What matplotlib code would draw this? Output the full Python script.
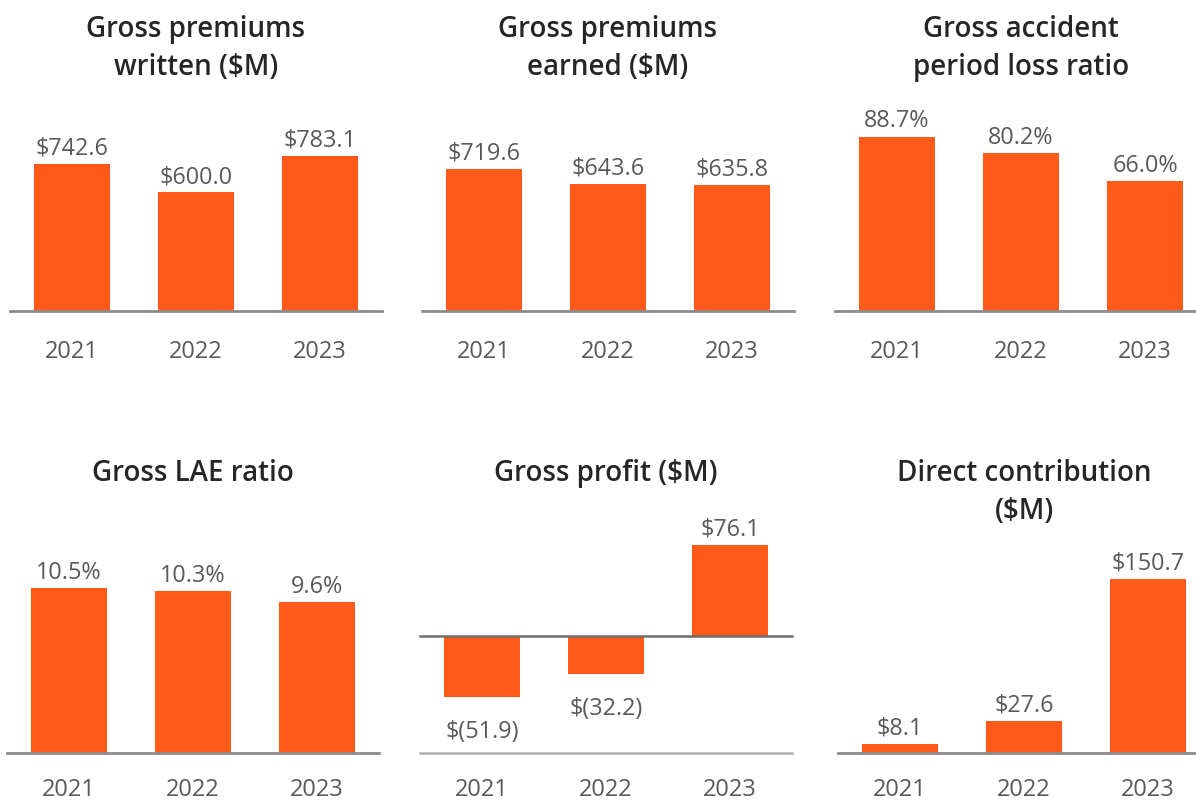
import matplotlib
matplotlib.use("Agg")
import matplotlib.pyplot as plt

plt.rcParams['font.family'] = ['Open Sans', 'DejaVu Sans']

years = ['2021', '2022', '2023']

gpw = [742.6, 600.0, 783.1]
gpe = [719.6, 643.6, 635.8]
loss_ratio = [88.7, 80.2, 66.0]
lae_ratio = [10.5, 10.3, 9.6]
gross_profit = [-51.9, -32.2, 76.1]
direct_contrib = [8.1, 27.6, 150.7]

titles = [
    ['Gross premiums', 'written ($M)'],
    ['Gross premiums', 'earned ($M)'],
    ['Gross accident', 'period loss ratio'],
    ['Gross LAE ratio'],
    ['Gross profit ($M)'],
    ['Direct contribution', '($M)'],
]

ORANGE = '#FF5A1A'
W, H = 1196, 804

fig = plt.figure(figsize=(W / 100, H / 100), dpi=100)


def money(v):
    if v < 0:
        return '$({:.1f})'.format(-v)
    return '${:.1f}'.format(v)


def pct(v):
    return '{:.1f}%'.format(v)


# (left px, top px, bottom px, ylim, values, formatter, title baseline px, year offset pt)
panels = [
    (10, 100, 312, (0, 1073), gpw, money, 37, -33),
    (422, 100, 312, (0, 1073), gpe, money, 37, -33),
    (835, 100, 312, (0, 107.9), loss_ratio, pct, 37, -33),
    (7, 520, 754, (0, 14.9), lae_ratio, pct, 481, -30.5),
    (420, 520, 754, (-98.8, 98), gross_profit, money, 481, -30.5),
    (838, 520, 754, (0, 202.6), direct_contrib, money, 481, -30.5),
]

for i, (x0, top, bot, ylim, vals, fmt, tb, yoff) in enumerate(panels):
    ax = fig.add_axes([x0 / W, 1 - bot / H, 372 / W, (bot - top) / H])
    ax.bar(range(3), vals, width=0.61, color=ORANGE, zorder=2)
    ax.set_xlim(-0.5, 2.5)
    ax.set_ylim(*ylim)
    ax.axis('off')
    if ylim[0] < 0:
        ax.axhline(0, color='#6e6e6e', lw=1.8, zorder=3, clip_on=False)
        ax.axhline(ylim[0], color='#b0b0b0', lw=1.8, zorder=3, clip_on=False)
    else:
        ax.axhline(0, color='#8c8c8c', lw=2, zorder=3, clip_on=False)
    for j, v in enumerate(vals):
        if v >= 0:
            ax.annotate(fmt(v), (j, v), xytext=(0, 7.5), textcoords='offset points',
                        ha='center', va='baseline', fontsize=16.8, color='#595959')
        else:
            ax.annotate(fmt(v), (j, v), xytext=(0, -16), textcoords='offset points',
                        ha='center', va='top', fontsize=16.8, color='#595959')
        ax.annotate(years[j], (j, ylim[0]), xytext=(0, yoff), textcoords='offset points',
                    ha='center', va='baseline', fontsize=17, color='#595959',
                    annotation_clip=False)
    cx = (x0 + 186) / W
    for k, line in enumerate(titles[i]):
        fig.text(cx, 1 - (tb + 38 * k) / H, line, ha='center', va='baseline',
                 fontsize=20, fontweight='semibold', color='#262626')

fig.savefig('out.png', dpi=100)
